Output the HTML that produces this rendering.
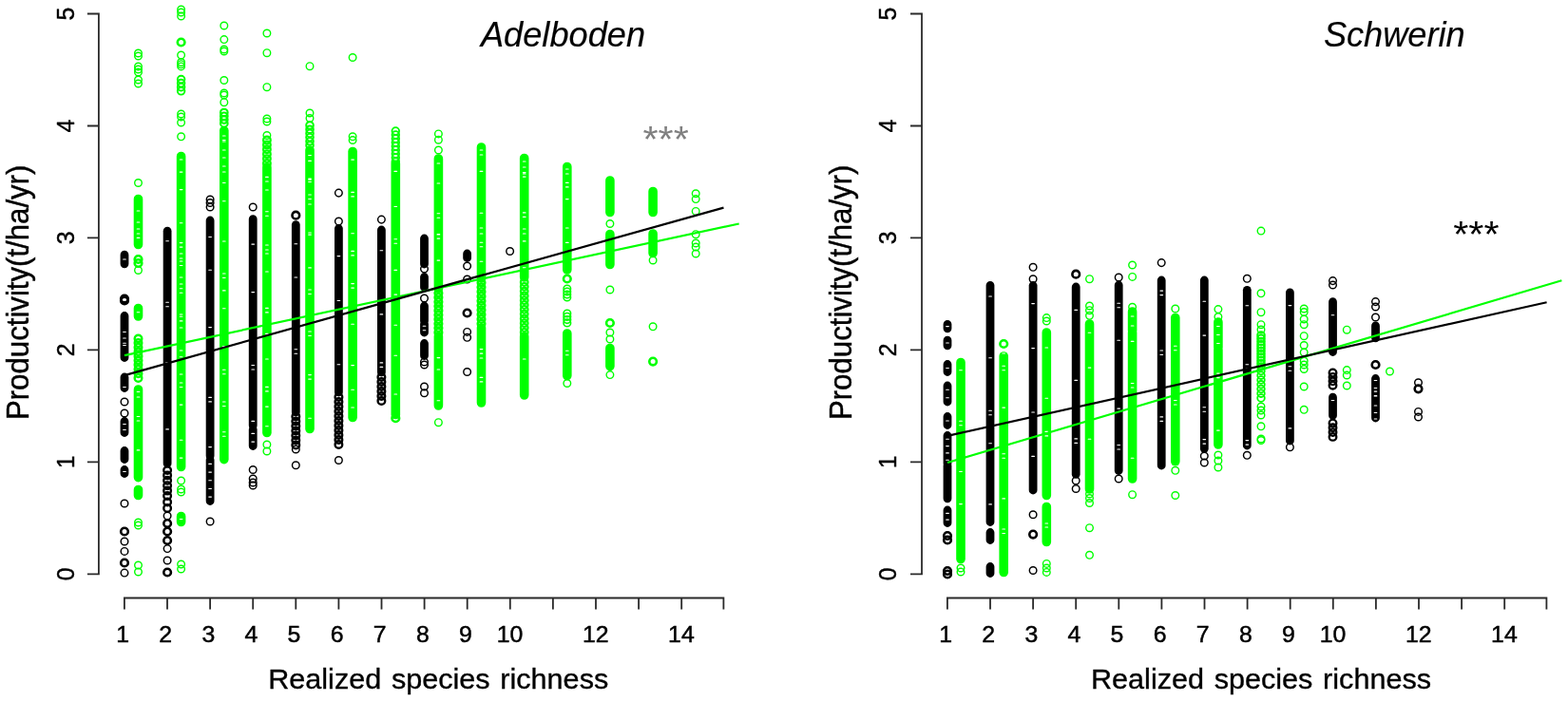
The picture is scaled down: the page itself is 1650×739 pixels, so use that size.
<!DOCTYPE html>
<html lang="en">
<head>
<meta charset="utf-8">
<title>Productivity vs realized species richness</title>
<style>
html,body{margin:0;padding:0;background:#fff;}
body{width:1650px;height:739px;overflow:hidden;}
svg{display:block;font-family:"Liberation Sans",sans-serif;}
.ax{stroke:#2a2a2a;stroke-width:1.8;fill:none;}
text{text-anchor:middle;fill:#000;stroke:#000;stroke-width:0.5;}
.tk{font-size:24.8px;}
.lb{font-size:30.6px;word-spacing:2.2px;stroke-width:0.35;}
.yl{font-size:31.2px;}
.ti{font-size:36.2px;font-style:italic;stroke-width:0.15;}
.st{font-size:41.3px;stroke:none;}
.rt{stroke-width:0.4;}
.k{stroke:#000;fill:none;stroke-width:1.45;}
.g{stroke:#00ff00;fill:none;stroke-width:1.4;}
.k .d{stroke-width:8.8;stroke-linecap:round;}
.g .d{stroke-width:9.6;stroke-linecap:round;}
.w{stroke:#fff;stroke-width:1.1;stroke-linecap:round;}
.ln{stroke-width:2.2;fill:none;stroke-linecap:butt;}
</style>
</head>
<body>
<svg width="1650" height="739" viewBox="0 0 1650 739">
<rect width="1650" height="739" fill="#fff"/>
<path class="ax" d="M103.9 13.6V605.2M103.9 604.3H91.9M103.9 486.3H91.9M103.9 368.4H91.9M103.9 250.4H91.9M103.9 132.5H91.9M103.9 14.5H91.9M130 629.5H762.3M130.9 629.5V641.5M176 629.5V641.5M221.1 629.5V641.5M266.2 629.5V641.5M311.3 629.5V641.5M356.4 629.5V641.5M401.5 629.5V641.5M446.6 629.5V641.5M491.7 629.5V641.5M536.8 629.5V641.5M581.9 629.5V641.5M627 629.5V641.5M672.1 629.5V641.5M717.2 629.5V641.5M761.4 629.5V641.5"/>
<text class="tk rt" transform="translate(77.8,604.3) scale(1.06,1) rotate(-90)">0</text>
<text class="tk rt" transform="translate(77.8,486.3) scale(1.06,1) rotate(-90)">1</text>
<text class="tk rt" transform="translate(77.8,368.4) scale(1.06,1) rotate(-90)">2</text>
<text class="tk rt" transform="translate(77.8,250.4) scale(1.06,1) rotate(-90)">3</text>
<text class="tk rt" transform="translate(77.8,132.5) scale(1.06,1) rotate(-90)">4</text>
<text class="tk rt" transform="translate(77.8,14.5) scale(1.06,1) rotate(-90)">5</text>
<text class="tk" x="129.1" y="676.4">1</text>
<text class="tk" x="174.2" y="676.4">2</text>
<text class="tk" x="219.3" y="676.4">3</text>
<text class="tk" x="264.4" y="676.4">4</text>
<text class="tk" x="309.5" y="676.4">5</text>
<text class="tk" x="354.6" y="676.4">6</text>
<text class="tk" x="399.7" y="676.4">7</text>
<text class="tk" x="444.8" y="676.4">8</text>
<text class="tk" x="489.9" y="676.4">9</text>
<text class="tk" x="536.5" y="676.4">10</text>
<text class="tk" x="626.7" y="676.4">12</text>
<text class="tk" x="716.9" y="676.4">14</text>
<text class="lb" transform="translate(461.2,725.3) scale(1,0.96)">Realized species richness</text>
<text class="yl rt" transform="translate(29.8,307.8) scale(1.06,1) rotate(-90)">Productivity(t/ha/yr)</text>
<text class="ti" x="592.5" y="48.7">Adelboden</text>
<text class="st" style="fill:#808080" transform="translate(700.6,159.6) scale(1,0.92)">***</text>
<g class="k"><path class="d" d="M131 268.2V277.8M131 332.5V376.5M131 397V408.5M131 443.5V455.5M131 474.5V483.5M131 494.5V498.5"/><path class="w" d="M129.7 273h2.6M129.7 361.2h2.6M129.7 349.5h2.6M129.7 356h2.6M129.7 363.5h2.6M129.7 407.5h2.6M129.7 446.5h2.6M129.7 452.5h2.6M129.7 496.5h2.6"/><circle cx="131" cy="314.5" r="3.8" stroke-width="2.6"/><circle cx="131" cy="316.5" r="3.8" stroke-width="2.6"/><circle cx="131" cy="423" r="3.8"/><circle cx="131" cy="435" r="3.8"/><circle cx="131" cy="530" r="3.8"/><circle cx="131" cy="559.5" r="3.8" stroke-width="2.6"/><circle cx="131" cy="570" r="3.8"/><circle cx="131" cy="580.4" r="3.8"/><circle cx="131" cy="603.1" r="3.8"/><circle cx="131" cy="592.5" r="3.8" stroke-width="2.6"/></g>
<g class="k"><path class="d" d="M176.1 243.2V488"/><path class="w" d="M174.8 253.7h2.6M174.8 318.3h2.6M174.8 322.8h2.6M174.8 381.7h2.6M174.8 451.9h2.6"/><circle cx="176.1" cy="495" r="3.8" stroke-width="2.4"/><circle cx="176.1" cy="500.4" r="3.8" stroke-width="2.4"/><circle cx="176.1" cy="505.8" r="3.8" stroke-width="2.4"/><circle cx="176.1" cy="511.2" r="3.8" stroke-width="2.4"/><circle cx="176.1" cy="516.6" r="3.8" stroke-width="2.4"/><circle cx="176.1" cy="522" r="3.8" stroke-width="2.4"/><circle cx="176.1" cy="528.5" r="3.8" stroke-width="2.4"/><circle cx="176.1" cy="535" r="3.8" stroke-width="2.4"/><circle cx="176.1" cy="543" r="3.8"/><circle cx="176.1" cy="551" r="3.8" stroke-width="2.6"/><circle cx="176.1" cy="559.5" r="3.8" stroke-width="2.6"/><circle cx="176.1" cy="569" r="3.8" stroke-width="2.6"/><circle cx="176.1" cy="602.5" r="3.8" stroke-width="2.6"/><circle cx="176.1" cy="577.6" r="3.8"/><circle cx="176.1" cy="590" r="3.8"/></g>
<g class="k"><path class="d" d="M221.1 232V480M221.1 484V527.5"/><path class="w" d="M219.8 249.5h2.6M219.8 284.2h2.6M219.8 344.6h2.6M219.8 418.4h2.6M219.8 422.9h2.6M219.8 470.6h2.6M219.8 488.4h2.6M219.8 497.1h2.6M219.8 505.8h2.6M219.8 514.5h2.6M219.8 523.1h2.6"/><circle cx="221.1" cy="210" r="3.8"/><circle cx="221.1" cy="213.5" r="3.8"/><circle cx="221.1" cy="218" r="3.8"/><circle cx="221.1" cy="549" r="3.8"/></g>
<g class="k"><path class="d" d="M266.2 230.6V448M266.2 452V469.5"/><path class="w" d="M264.9 257.1h2.6M264.9 307.6h2.6M264.9 384.5h2.6M264.9 389h2.6M264.9 443.4h2.6M264.9 456.4h2.6M264.9 465.1h2.6"/><circle cx="266.2" cy="218" r="3.8"/><circle cx="266.2" cy="494.5" r="3.8"/><circle cx="266.2" cy="504" r="3.8"/><circle cx="266.2" cy="508" r="3.8"/><circle cx="266.2" cy="511" r="3.8"/></g>
<g class="k"><path class="d" d="M311.3 236.6V434"/><path class="w" d="M310 256.8h2.6M310 292h2.6M310 367.8h2.6M310 372.3h2.6"/><circle cx="311.3" cy="226.7" r="3.8" stroke-width="2.6"/><circle cx="311.3" cy="438.5" r="3.8" stroke-width="2.4"/><circle cx="311.3" cy="443.5" r="3.8" stroke-width="2.4"/><circle cx="311.3" cy="448.5" r="3.8" stroke-width="2.4"/><circle cx="311.3" cy="453.5" r="3.8" stroke-width="2.4"/><circle cx="311.3" cy="458.5" r="3.8" stroke-width="2.4"/><circle cx="311.3" cy="463.5" r="3.8" stroke-width="2.4"/><circle cx="311.3" cy="468.5" r="3.8" stroke-width="2.4"/><circle cx="311.3" cy="473" r="3.8"/><circle cx="311.3" cy="489.7" r="3.8"/></g>
<g class="k"><path class="d" d="M356.4 240.5V413"/><path class="w" d="M355.1 269.6h2.6M355.1 316.5h2.6M355.1 383.8h2.6"/><circle cx="356.4" cy="203.1" r="3.8"/><circle cx="356.4" cy="233" r="3.8"/><circle cx="356.4" cy="418" r="3.8" stroke-width="2.4"/><circle cx="356.4" cy="423" r="3.8" stroke-width="2.4"/><circle cx="356.4" cy="428" r="3.8" stroke-width="2.4"/><circle cx="356.4" cy="433" r="3.8" stroke-width="2.4"/><circle cx="356.4" cy="438" r="3.8" stroke-width="2.4"/><circle cx="356.4" cy="443" r="3.8" stroke-width="2.4"/><circle cx="356.4" cy="448" r="3.8" stroke-width="2.4"/><circle cx="356.4" cy="453" r="3.8" stroke-width="2.4"/><circle cx="356.4" cy="458" r="3.8" stroke-width="2.4"/><circle cx="356.4" cy="463" r="3.8" stroke-width="2.4"/><circle cx="356.4" cy="468" r="3.8" stroke-width="2.4"/><circle cx="356.4" cy="484.5" r="3.8"/></g>
<g class="k"><path class="d" d="M401.4 242V392"/><path class="w" d="M400.1 263.7h2.6M400.1 330.9h2.6M400.1 381.9h2.6M400.1 386.4h2.6"/><circle cx="401.4" cy="231.1" r="3.8"/><circle cx="401.4" cy="397" r="3.8" stroke-width="2.4"/><circle cx="401.4" cy="402" r="3.8" stroke-width="2.4"/><circle cx="401.4" cy="407" r="3.8" stroke-width="2.4"/><circle cx="401.4" cy="412" r="3.8" stroke-width="2.4"/><circle cx="401.4" cy="417" r="3.8" stroke-width="2.4"/><circle cx="401.4" cy="422" r="3.8" stroke-width="2.4"/></g>
<g class="k"><path class="d" d="M446.5 251V278M446.5 291.5V302.5M446.5 322V338M446.5 341V350M446.5 361.5V374.5"/><path class="w" d="M445.2 343.2h2.6M445.2 347.8h2.6"/><circle cx="446.5" cy="283" r="3.8"/><circle cx="446.5" cy="314" r="3.8"/><circle cx="446.5" cy="381" r="3.8"/><circle cx="446.5" cy="384" r="3.8"/><circle cx="446.5" cy="407" r="3.8"/><circle cx="446.5" cy="413.7" r="3.8"/></g>
<g class="k"><path class="d" d="M491.6 267V271.5"/><circle cx="491.6" cy="280" r="3.8"/><circle cx="491.6" cy="294" r="3.8"/><circle cx="491.6" cy="329.5" r="3.8" stroke-width="2.6"/><circle cx="491.6" cy="349.4" r="3.8"/><circle cx="491.6" cy="355.3" r="3.8"/><circle cx="491.6" cy="391.5" r="3.8"/></g>
<g class="k"><circle cx="536.6" cy="264.5" r="3.8"/></g>
<g class="g"><path class="d" d="M145.5 209.5V257.5M145.5 324.5V333M145.5 410V502.6M145.5 515.5V521.5"/><path class="w" d="M144.2 234h2.6M144.2 250.4h2.6M144.2 222h2.6M144.2 241h2.6M144.2 246h2.6M144.2 328.8h2.6M144.2 438.5h2.6M144.2 443h2.6M144.2 473.9h2.6M144.2 412.5h2.6M144.2 418h2.6"/><circle cx="145.5" cy="56" r="3.8"/><circle cx="145.5" cy="59" r="3.8"/><circle cx="145.5" cy="70" r="3.8"/><circle cx="145.5" cy="73" r="3.8"/><circle cx="145.5" cy="76" r="3.8"/><circle cx="145.5" cy="84" r="3.8"/><circle cx="145.5" cy="88" r="3.8"/><circle cx="145.5" cy="192.5" r="3.8"/><circle cx="145.5" cy="273" r="3.8" stroke-width="2.6"/><circle cx="145.5" cy="277" r="3.8" stroke-width="2.6"/><circle cx="145.5" cy="284.5" r="3.8"/><circle cx="145.5" cy="356.5" r="3.8" stroke-width="2.4"/><circle cx="145.5" cy="361.1" r="3.8" stroke-width="2.4"/><circle cx="145.5" cy="365.7" r="3.8" stroke-width="2.4"/><circle cx="145.5" cy="370.3" r="3.8" stroke-width="2.4"/><circle cx="145.5" cy="374.9" r="3.8" stroke-width="2.4"/><circle cx="145.5" cy="379.5" r="3.8" stroke-width="2.4"/><circle cx="145.5" cy="384.1" r="3.8" stroke-width="2.4"/><circle cx="145.5" cy="388.7" r="3.8" stroke-width="2.4"/><circle cx="145.5" cy="393.3" r="3.8" stroke-width="2.4"/><circle cx="145.5" cy="397.9" r="3.8" stroke-width="2.4"/><circle cx="145.5" cy="550" r="3.8"/><circle cx="145.5" cy="553" r="3.8"/><circle cx="145.5" cy="595" r="3.8"/><circle cx="145.5" cy="602" r="3.8"/></g>
<g class="g"><path class="d" d="M190.6 164.5V491.5M190.6 543.5V549.5"/><path class="w" d="M189.3 181.1h2.6M189.3 199.6h2.6M189.3 234.7h2.6M189.3 255.6h2.6M189.3 260.1h2.6M189.3 275h2.6M189.3 279.5h2.6M189.3 303.7h2.6M189.3 308.2h2.6M189.3 333.2h2.6M189.3 337.7h2.6M189.3 375.8h2.6M189.3 403h2.6M189.3 407.5h2.6M189.3 426.1h2.6M189.3 463.2h2.6M189.3 482.1h2.6M189.3 168h2.6M189.3 267h2.6M189.3 272h2.6M189.3 292h2.6M189.3 299h2.6M189.3 331h2.6M189.3 338h2.6M189.3 345h2.6M189.3 369h2.6M189.3 394h2.6M189.3 546.5h2.6"/><circle cx="190.6" cy="10" r="3.8"/><circle cx="190.6" cy="13" r="3.8"/><circle cx="190.6" cy="17" r="3.8"/><circle cx="190.6" cy="58" r="3.8"/><circle cx="190.6" cy="44.5" r="3.8" stroke-width="2.6"/><circle cx="190.6" cy="65.5" r="3.8"/><circle cx="190.6" cy="67.7" r="3.8"/><circle cx="190.6" cy="69.9" r="3.8"/><circle cx="190.6" cy="83.5" r="3.8" stroke-width="1.9"/><circle cx="190.6" cy="87.6" r="3.8" stroke-width="1.9"/><circle cx="190.6" cy="91.7" r="3.8" stroke-width="1.9"/><circle cx="190.6" cy="95.8" r="3.8" stroke-width="1.9"/><circle cx="190.6" cy="120" r="3.8"/><circle cx="190.6" cy="123" r="3.8"/><circle cx="190.6" cy="129" r="3.8"/><circle cx="190.6" cy="143.8" r="3.8"/><circle cx="190.6" cy="506" r="3.8"/><circle cx="190.6" cy="515" r="3.8"/><circle cx="190.6" cy="518" r="3.8"/><circle cx="190.6" cy="594" r="3.8"/><circle cx="190.6" cy="599" r="3.8"/></g>
<g class="g"><path class="d" d="M235.8 137.5V483.6"/><path class="w" d="M234.5 147.5h2.6M234.5 192.5h2.6M234.5 211.7h2.6M234.5 254h2.6M234.5 288h2.6M234.5 292.5h2.6M234.5 305.9h2.6M234.5 324.8h2.6M234.5 364.6h2.6M234.5 389.2h2.6M234.5 393.7h2.6M234.5 423h2.6M234.5 427.5h2.6M234.5 454.7h2.6M234.5 459.2h2.6M234.5 143h2.6M234.5 149h2.6M234.5 158h2.6M234.5 166h2.6M234.5 175h2.6M234.5 181h2.6"/><circle cx="235.8" cy="27" r="3.8"/><circle cx="235.8" cy="41.6" r="3.8"/><circle cx="235.8" cy="52" r="3.8"/><circle cx="235.8" cy="54" r="3.8"/><circle cx="235.8" cy="84.5" r="3.8"/><circle cx="235.8" cy="98" r="3.8"/><circle cx="235.8" cy="100" r="3.8"/><circle cx="235.8" cy="107.7" r="3.8"/><circle cx="235.8" cy="118.5" r="3.8" stroke-width="2.1"/><circle cx="235.8" cy="122.3" r="3.8" stroke-width="2.1"/><circle cx="235.8" cy="126.1" r="3.8" stroke-width="2.1"/><circle cx="235.8" cy="129.9" r="3.8" stroke-width="2.1"/></g>
<g class="g"><path class="d" d="M280.9 176V455.5"/><path class="w" d="M279.6 186.4h2.6M279.6 222.8h2.6M279.6 227.3h2.6M279.6 267h2.6M279.6 286h2.6M279.6 324.4h2.6M279.6 328.9h2.6M279.6 351.4h2.6M279.6 378h2.6M279.6 407.4h2.6M279.6 411.9h2.6M279.6 428.1h2.6M279.6 448.7h2.6M279.6 191h2.6M279.6 200h2.6M279.6 258h2.6M279.6 263h2.6"/><circle cx="280.9" cy="35" r="3.8"/><circle cx="280.9" cy="55.7" r="3.8"/><circle cx="280.9" cy="91.7" r="3.8"/><circle cx="280.9" cy="125" r="3.8"/><circle cx="280.9" cy="128" r="3.8"/><circle cx="280.9" cy="142.5" r="3.8"/><circle cx="280.9" cy="147.5" r="3.8" stroke-width="2.3"/><circle cx="280.9" cy="152.4" r="3.8" stroke-width="2.3"/><circle cx="280.9" cy="157.3" r="3.8" stroke-width="2.3"/><circle cx="280.9" cy="162.2" r="3.8" stroke-width="2.3"/><circle cx="280.9" cy="167.1" r="3.8" stroke-width="2.3"/><circle cx="280.9" cy="172" r="3.8" stroke-width="2.3"/><circle cx="280.9" cy="468" r="3.8"/><circle cx="280.9" cy="475" r="3.8"/></g>
<g class="g"><path class="d" d="M326 158V451.5"/><path class="w" d="M324.7 169.4h2.6M324.7 189.1h2.6M324.7 209.5h2.6M324.7 247.1h2.6M324.7 281.9h2.6M324.7 305h2.6M324.7 309.5h2.6M324.7 349h2.6M324.7 353.5h2.6M324.7 394.6h2.6M324.7 399.1h2.6M324.7 440.3h2.6M324.7 163.5h2.6M324.7 188h2.6M324.7 191.5h2.6M324.7 205h2.6M324.7 215h2.6M324.7 245h2.6"/><circle cx="326" cy="69.7" r="3.8"/><circle cx="326" cy="119" r="3.8"/><circle cx="326" cy="124.5" r="3.8"/><circle cx="326" cy="132" r="3.8" stroke-width="2"/><circle cx="326" cy="136.2" r="3.8" stroke-width="2"/><circle cx="326" cy="140.4" r="3.8" stroke-width="2"/><circle cx="326" cy="144.6" r="3.8" stroke-width="2"/><circle cx="326" cy="148.8" r="3.8" stroke-width="2"/><circle cx="326" cy="153" r="3.8" stroke-width="2"/></g>
<g class="g"><path class="d" d="M371.1 159.5V439.5"/><path class="w" d="M369.8 168.1h2.6M369.8 202.4h2.6M369.8 206.9h2.6M369.8 245.7h2.6M369.8 264.4h2.6M369.8 268.9h2.6M369.8 298.6h2.6M369.8 303.1h2.6M369.8 341.2h2.6M369.8 384.6h2.6M369.8 410.2h2.6M369.8 429h2.6"/><circle cx="371.1" cy="60.5" r="3.8"/><circle cx="371.1" cy="143.8" r="3.8"/><circle cx="371.1" cy="147.5" r="3.8"/></g>
<g class="g"><path class="d" d="M416.3 172V436.5"/><path class="w" d="M415 180.4h2.6M415 217.5h2.6M415 251.7h2.6M415 256.2h2.6M415 284.4h2.6M415 310.1h2.6M415 342.3h2.6M415 374.2h2.6M415 415h2.6M415 146.5h2.6M415 158h2.6M415 163h2.6M415 168h2.6"/><circle cx="416.3" cy="138" r="3.8" stroke-width="1.8"/><circle cx="416.3" cy="142" r="3.8" stroke-width="1.8"/><circle cx="416.3" cy="146" r="3.8" stroke-width="1.8"/><circle cx="416.3" cy="150" r="3.8" stroke-width="1.8"/><circle cx="416.3" cy="154" r="3.8" stroke-width="1.8"/><circle cx="416.3" cy="158" r="3.8" stroke-width="1.8"/><circle cx="416.3" cy="162" r="3.8" stroke-width="1.8"/><circle cx="416.3" cy="166" r="3.8" stroke-width="1.8"/><circle cx="416.3" cy="170" r="3.8" stroke-width="1.8"/><circle cx="416.3" cy="440.2" r="3.8" stroke-width="2.6"/></g>
<g class="g"><path class="d" d="M461.4 167V304M461.4 354V427"/><path class="w" d="M460.1 193h2.6M460.1 224.8h2.6M460.1 229.3h2.6M460.1 246.6h2.6M460.1 251.1h2.6M460.1 274.1h2.6M460.1 172h2.6M460.1 247h2.6M460.1 389h2.6M460.1 376.6h2.6M460.1 421.8h2.6"/><circle cx="461.4" cy="140.9" r="3.8"/><circle cx="461.4" cy="147.2" r="3.8"/><circle cx="461.4" cy="158" r="3.8"/><circle cx="461.4" cy="308.5" r="3.8" stroke-width="2.5"/><circle cx="461.4" cy="313.1" r="3.8" stroke-width="2.5"/><circle cx="461.4" cy="317.7" r="3.8" stroke-width="2.5"/><circle cx="461.4" cy="322.3" r="3.8" stroke-width="2.5"/><circle cx="461.4" cy="326.9" r="3.8" stroke-width="2.5"/><circle cx="461.4" cy="331.5" r="3.8" stroke-width="2.5"/><circle cx="461.4" cy="336.1" r="3.8" stroke-width="2.5"/><circle cx="461.4" cy="340.7" r="3.8" stroke-width="2.5"/><circle cx="461.4" cy="345.3" r="3.8" stroke-width="2.5"/><circle cx="461.4" cy="349.9" r="3.8" stroke-width="2.5"/><circle cx="461.4" cy="444.7" r="3.8"/></g>
<g class="g"><path class="d" d="M506.5 155V293M506.5 345V424"/><path class="w" d="M505.2 180.4h2.6M505.2 224.3h2.6M505.2 255.2h2.6M505.2 259.7h2.6M505.2 275.2h2.6M505.2 158h2.6M505.2 163h2.6M505.2 240h2.6M505.2 246h2.6M505.2 377h2.6M505.2 367.6h2.6M505.2 372.1h2.6M505.2 397.4h2.6M505.2 401.9h2.6"/><circle cx="506.5" cy="297.5" r="3.8" stroke-width="2.5"/><circle cx="506.5" cy="302.3" r="3.8" stroke-width="2.5"/><circle cx="506.5" cy="307.1" r="3.8" stroke-width="2.5"/><circle cx="506.5" cy="311.9" r="3.8" stroke-width="2.5"/><circle cx="506.5" cy="316.7" r="3.8" stroke-width="2.5"/><circle cx="506.5" cy="321.5" r="3.8" stroke-width="2.5"/><circle cx="506.5" cy="326.3" r="3.8" stroke-width="2.5"/><circle cx="506.5" cy="331.1" r="3.8" stroke-width="2.5"/><circle cx="506.5" cy="335.9" r="3.8" stroke-width="2.5"/><circle cx="506.5" cy="340.7" r="3.8" stroke-width="2.5"/></g>
<g class="g"><path class="d" d="M551.7 166.5V292M551.7 354V416"/><path class="w" d="M550.4 181.6h2.6M550.4 186.1h2.6M550.4 223.9h2.6M550.4 228.4h2.6M550.4 253.9h2.6M550.4 281.7h2.6M550.4 170h2.6M550.4 176h2.6M550.4 183h2.6M550.4 241h2.6M550.4 246h2.6M550.4 378h2.6"/><circle cx="551.7" cy="297" r="3.8" stroke-width="2.2"/><circle cx="551.7" cy="301.8" r="3.8" stroke-width="2.2"/><circle cx="551.7" cy="306.6" r="3.8" stroke-width="2.2"/><circle cx="551.7" cy="311.4" r="3.8" stroke-width="2.2"/><circle cx="551.7" cy="316.2" r="3.8" stroke-width="2.2"/><circle cx="551.7" cy="321" r="3.8" stroke-width="2.2"/><circle cx="551.7" cy="325.8" r="3.8" stroke-width="2.2"/><circle cx="551.7" cy="330.6" r="3.8" stroke-width="2.2"/><circle cx="551.7" cy="335.4" r="3.8" stroke-width="2.2"/><circle cx="551.7" cy="340.2" r="3.8" stroke-width="2.2"/><circle cx="551.7" cy="345" r="3.8" stroke-width="2.2"/><circle cx="551.7" cy="349.8" r="3.8" stroke-width="2.2"/></g>
<g class="g"><path class="d" d="M596.8 175.5V284M596.8 351V395.5"/><path class="w" d="M595.5 192.4h2.6M595.5 196.9h2.6M595.5 209.6h2.6M595.5 255.4h2.6M595.5 178h2.6M595.5 183h2.6M595.5 240h2.6M595.5 369.3h2.6M595.5 373.8h2.6"/><circle cx="596.8" cy="293.5" r="3.8" stroke-width="2.6"/><circle cx="596.8" cy="304" r="3.8" stroke-width="1.5"/><circle cx="596.8" cy="307" r="3.8" stroke-width="1.5"/><circle cx="596.8" cy="310" r="3.8" stroke-width="1.5"/><circle cx="596.8" cy="313" r="3.8" stroke-width="1.5"/><circle cx="596.8" cy="330" r="3.8" stroke-width="1.6"/><circle cx="596.8" cy="333.3" r="3.8" stroke-width="1.6"/><circle cx="596.8" cy="336.6" r="3.8" stroke-width="1.6"/><circle cx="596.8" cy="339.9" r="3.8" stroke-width="1.6"/><circle cx="596.8" cy="403.5" r="3.8"/></g>
<g class="g"><path class="d" d="M641.9 190V223.5M641.9 246.5V278.5M641.9 366.5V385.5"/><circle cx="641.9" cy="235.5" r="3.8"/><circle cx="641.9" cy="305" r="3.8"/><circle cx="641.9" cy="350" r="3.8"/><circle cx="641.9" cy="357" r="3.8"/><circle cx="641.9" cy="340" r="3.8" stroke-width="2.6"/><circle cx="641.9" cy="394.6" r="3.8"/></g>
<g class="g"><path class="d" d="M687.1 201.5V223.5M687.1 246V266.5"/><circle cx="687.1" cy="274" r="3.8"/><circle cx="687.1" cy="343.8" r="3.8"/><circle cx="687.1" cy="380.6" r="3.8" stroke-width="2.6"/></g>
<g class="g"><circle cx="732.2" cy="203.8" r="3.8"/><circle cx="732.2" cy="209.6" r="3.8"/><circle cx="732.2" cy="222.4" r="3.8"/><circle cx="732.2" cy="246.7" r="3.8"/><circle cx="732.2" cy="256" r="3.8"/><circle cx="732.2" cy="260" r="3.8"/><circle cx="732.2" cy="267" r="3.8"/></g>
<path class="ln" stroke="#00ff00" d="M131 374.1L777.7 235.5"/>
<path class="ln" stroke="#000" d="M131 395.1L761.5 218.6"/>
<path class="ax" d="M970 13.6V605.2M970 604.3H958M970 486.3H958M970 368.4H958M970 250.4H958M970 132.5H958M970 14.5H958M996 629.5H1628.3M996.9 629.5V641.5M1042 629.5V641.5M1087.1 629.5V641.5M1132.2 629.5V641.5M1177.3 629.5V641.5M1222.4 629.5V641.5M1267.5 629.5V641.5M1312.6 629.5V641.5M1357.7 629.5V641.5M1402.8 629.5V641.5M1447.9 629.5V641.5M1493 629.5V641.5M1538.1 629.5V641.5M1583.2 629.5V641.5M1627.4 629.5V641.5"/>
<text class="tk rt" transform="translate(943.3,604.3) scale(1.06,1) rotate(-90)">0</text>
<text class="tk rt" transform="translate(943.3,486.3) scale(1.06,1) rotate(-90)">1</text>
<text class="tk rt" transform="translate(943.3,368.4) scale(1.06,1) rotate(-90)">2</text>
<text class="tk rt" transform="translate(943.3,250.4) scale(1.06,1) rotate(-90)">3</text>
<text class="tk rt" transform="translate(943.3,132.5) scale(1.06,1) rotate(-90)">4</text>
<text class="tk rt" transform="translate(943.3,14.5) scale(1.06,1) rotate(-90)">5</text>
<text class="tk" x="995.1" y="676.4">1</text>
<text class="tk" x="1040.2" y="676.4">2</text>
<text class="tk" x="1085.3" y="676.4">3</text>
<text class="tk" x="1130.4" y="676.4">4</text>
<text class="tk" x="1175.5" y="676.4">5</text>
<text class="tk" x="1220.6" y="676.4">6</text>
<text class="tk" x="1265.7" y="676.4">7</text>
<text class="tk" x="1310.8" y="676.4">8</text>
<text class="tk" x="1355.9" y="676.4">9</text>
<text class="tk" x="1402.5" y="676.4">10</text>
<text class="tk" x="1492.7" y="676.4">12</text>
<text class="tk" x="1582.9" y="676.4">14</text>
<text class="lb" transform="translate(1327,725.3) scale(1,0.96)">Realized species richness</text>
<text class="yl rt" transform="translate(895.8,307.8) scale(1.06,1) rotate(-90)">Productivity(t/ha/yr)</text>
<text class="ti" x="1467.3" y="48.7">Schwerin</text>
<text class="st" style="fill:#000" transform="translate(1553.4,259.6) scale(1,0.92)">***</text>
<g class="k"><path class="d" d="M997 341.3V345.8M997 358.2V363.8M997 383.5V391.5M997 406V423M997 438.5V447.5M997 458.5V488M997 490V524.8M997 537V550.5"/><path class="w" d="M995.7 343.6h2.6M995.7 361h2.6M995.7 387.5h2.6M995.7 410.2h2.6M995.7 418.8h2.6M995.7 443h2.6M995.7 462.2h2.6M995.7 469.6h2.6M995.7 476.9h2.6M995.7 484.3h2.6M995.7 540.4h2.6M995.7 547.1h2.6"/><circle cx="997" cy="564" r="3.8" stroke-width="2.6"/><circle cx="997" cy="568.5" r="3.8" stroke-width="2.6"/><circle cx="997" cy="601" r="3.8" stroke-width="2.6"/><circle cx="997" cy="604.5" r="3.8" stroke-width="2.6"/></g>
<g class="k"><path class="d" d="M1042 300.3V549.5M1042 560.5V568.5M1042 596.5V603.5"/><path class="w" d="M1040.8 312h2.6M1040.8 376.8h2.6M1040.8 432.3h2.6M1040.8 436.8h2.6M1040.8 466.8h2.6M1040.8 530.9h2.6"/></g>
<g class="k"><path class="d" d="M1087.1 300.5V516"/><path class="w" d="M1085.8 319.6h2.6M1085.8 366.6h2.6M1085.8 434h2.6M1085.8 480.4h2.6"/><circle cx="1087.1" cy="281.3" r="3.8"/><circle cx="1087.1" cy="293.7" r="3.8"/><circle cx="1087.1" cy="541.7" r="3.8"/><circle cx="1087.1" cy="600.5" r="3.8"/><circle cx="1087.1" cy="562.6" r="3.8" stroke-width="2.6"/></g>
<g class="k"><path class="d" d="M1132.2 302V499.3"/><path class="w" d="M1130.9 326.4h2.6M1130.9 400.4h2.6M1130.9 461.9h2.6M1130.9 466.4h2.6"/><circle cx="1132.2" cy="288.7" r="3.8" stroke-width="2.6"/><circle cx="1132.2" cy="506" r="3.8"/><circle cx="1132.2" cy="514.5" r="3.8"/></g>
<g class="k"><path class="d" d="M1177.2 300V495.5"/><path class="w" d="M1175.9 319.3h2.6M1175.9 323.8h2.6M1175.9 358.3h2.6M1175.9 430.1h2.6M1175.9 468.5h2.6M1175.9 473h2.6"/><circle cx="1177.2" cy="292" r="3.8"/><circle cx="1177.2" cy="504" r="3.8"/></g>
<g class="k"><path class="d" d="M1222.2 295V490"/><path class="w" d="M1221 306.1h2.6M1221 310.6h2.6M1221 369h2.6M1221 373.5h2.6M1221 438.9h2.6M1221 443.4h2.6"/><circle cx="1222.2" cy="276.6" r="3.8"/></g>
<g class="k"><path class="d" d="M1267.3 295V472.3"/><path class="w" d="M1266 317.2h2.6M1266 353.1h2.6M1266 428.7h2.6M1266 433.2h2.6M1266 462.6h2.6M1266 467.1h2.6"/><circle cx="1267.3" cy="480" r="3.8"/><circle cx="1267.3" cy="487" r="3.8"/></g>
<g class="k"><path class="d" d="M1312.3 305.3V469"/><path class="w" d="M1311 321.8h2.6M1311 383.8h2.6M1311 388.3h2.6M1311 463.6h2.6M1311 468.1h2.6"/><circle cx="1312.3" cy="293.3" r="3.8"/><circle cx="1312.3" cy="479.3" r="3.8"/></g>
<g class="k"><path class="d" d="M1357.4 307.8V464"/><path class="w" d="M1356.1 321.6h2.6M1356.1 385.8h2.6M1356.1 390.3h2.6M1356.1 450.9h2.6"/><circle cx="1357.4" cy="470.7" r="3.8"/></g>
<g class="k"><path class="d" d="M1402.5 317.7V370.5M1402.5 418.2V437.5"/><path class="w" d="M1401.2 331.7h2.6M1401.2 421.5h2.6"/><circle cx="1402.5" cy="295.6" r="3.8"/><circle cx="1402.5" cy="300" r="3.8"/><circle cx="1402.5" cy="392.5" r="3.8" stroke-width="2.3"/><circle cx="1402.5" cy="396.9" r="3.8" stroke-width="2.3"/><circle cx="1402.5" cy="401.3" r="3.8" stroke-width="2.3"/><circle cx="1402.5" cy="405.7" r="3.8" stroke-width="2.3"/><circle cx="1402.5" cy="445.5" r="3.8" stroke-width="2.3"/><circle cx="1402.5" cy="450.3" r="3.8" stroke-width="2.3"/><circle cx="1402.5" cy="455.1" r="3.8" stroke-width="2.3"/><circle cx="1402.5" cy="459.9" r="3.8" stroke-width="2.3"/></g>
<g class="k"><path class="d" d="M1447.5 342.9V355.8M1447.5 398.5V440"/><path class="w" d="M1446.2 412.1h2.6M1446.2 416.6h2.6M1446.2 400.5h2.6M1446.2 408.5h2.6M1446.2 417h2.6M1446.2 427h2.6M1446.2 434.5h2.6M1446.2 441h2.6"/><circle cx="1447.5" cy="317.6" r="3.8"/><circle cx="1447.5" cy="323" r="3.8"/><circle cx="1447.5" cy="334" r="3.8"/><circle cx="1447.5" cy="384" r="3.8" stroke-width="2.6"/></g>
<g class="k"><circle cx="1492.5" cy="402.8" r="3.8"/><circle cx="1492.5" cy="433.4" r="3.8"/><circle cx="1492.5" cy="439" r="3.8"/><circle cx="1492.5" cy="409.3" r="3.8" stroke-width="2.6"/></g>
<g class="g"><path class="d" d="M1011 381.5V588.5"/><path class="w" d="M1009.7 389.8h2.6M1009.7 443.2h2.6M1009.7 447.7h2.6M1009.7 496.5h2.6M1009.7 530.6h2.6"/><circle cx="1011" cy="598" r="3.8"/><circle cx="1011" cy="602" r="3.8"/></g>
<g class="g"><path class="d" d="M1056.2 375V602.5"/><path class="w" d="M1054.9 385.3h2.6M1054.9 389.8h2.6M1054.9 429.1h2.6M1054.9 477.7h2.6M1054.9 482.2h2.6M1054.9 524.9h2.6M1054.9 557h2.6M1054.9 561.5h2.6M1054.9 372h2.6"/><circle cx="1056.2" cy="362" r="3.8" stroke-width="2.6"/></g>
<g class="g"><path class="d" d="M1101.3 350V521.5M1101.3 533.5V570.5"/><path class="w" d="M1100 366h2.6M1100 419.2h2.6M1100 454.4h2.6M1100 458.9h2.6M1100 527.5h2.6M1100 551h2.6M1100 555h2.6"/><circle cx="1101.3" cy="334.6" r="3.8"/><circle cx="1101.3" cy="338" r="3.8"/><circle cx="1101.3" cy="593.4" r="3.8"/><circle cx="1101.3" cy="598" r="3.8"/><circle cx="1101.3" cy="602.4" r="3.8"/></g>
<g class="g"><path class="d" d="M1146.5 341V515"/><path class="w" d="M1145.2 350.2h2.6M1145.2 387.1h2.6M1145.2 462.2h2.6"/><circle cx="1146.5" cy="293.7" r="3.8"/><circle cx="1146.5" cy="322" r="3.8"/><circle cx="1146.5" cy="326.7" r="3.8"/><circle cx="1146.5" cy="332.3" r="3.8"/><circle cx="1146.5" cy="520" r="3.8"/><circle cx="1146.5" cy="524.5" r="3.8"/><circle cx="1146.5" cy="529.5" r="3.8"/><circle cx="1146.5" cy="555.7" r="3.8"/><circle cx="1146.5" cy="584.3" r="3.8"/></g>
<g class="g"><path class="d" d="M1191.6 328V348M1191.6 350V504"/><path class="w" d="M1190.3 333h2.6M1190.3 343h2.6M1190.3 359.4h2.6M1190.3 403.5h2.6M1190.3 408h2.6M1190.3 482.2h2.6"/><circle cx="1191.6" cy="279" r="3.8"/><circle cx="1191.6" cy="291.4" r="3.8"/><circle cx="1191.6" cy="323.3" r="3.8"/><circle cx="1191.6" cy="520.7" r="3.8"/></g>
<g class="g"><path class="d" d="M1236.8 334.5V485.8"/><path class="w" d="M1235.5 364.2h2.6M1235.5 368.7h2.6M1235.5 421.5h2.6M1235.5 426h2.6"/><circle cx="1236.8" cy="325" r="3.8"/><circle cx="1236.8" cy="495.3" r="3.8"/><circle cx="1236.8" cy="521.5" r="3.8"/></g>
<g class="g"><path class="d" d="M1281.9 339V366M1281.9 368V468"/><path class="w" d="M1280.6 343.5h2.6M1280.6 352.5h2.6M1280.6 361.5h2.6M1280.6 393.1h2.6M1280.6 397.6h2.6M1280.6 453.1h2.6"/><circle cx="1281.9" cy="325.6" r="3.8"/><circle cx="1281.9" cy="333.5" r="3.8"/><circle cx="1281.9" cy="479" r="3.8"/><circle cx="1281.9" cy="485" r="3.8"/><circle cx="1281.9" cy="492" r="3.8"/></g>
<g class="g"><circle cx="1327" cy="243.1" r="3.8"/><circle cx="1327" cy="308.8" r="3.8"/><circle cx="1327" cy="328.7" r="3.8"/><circle cx="1327" cy="341.7" r="3.8"/><circle cx="1327" cy="347" r="3.8"/><circle cx="1327" cy="353" r="3.8" stroke-width="2"/><circle cx="1327" cy="356.3" r="3.8" stroke-width="2"/><circle cx="1327" cy="359.6" r="3.8" stroke-width="2"/><circle cx="1327" cy="362.9" r="3.8" stroke-width="2"/><circle cx="1327" cy="366.2" r="3.8" stroke-width="2"/><circle cx="1327" cy="369.5" r="3.8" stroke-width="2"/><circle cx="1327" cy="372.8" r="3.8" stroke-width="2"/><circle cx="1327" cy="376.1" r="3.8" stroke-width="2"/><circle cx="1327" cy="379.4" r="3.8" stroke-width="2"/><circle cx="1327" cy="382.7" r="3.8" stroke-width="2"/><circle cx="1327" cy="386" r="3.8" stroke-width="2"/><circle cx="1327" cy="390.5" r="3.8" stroke-width="1.8"/><circle cx="1327" cy="395.2" r="3.8" stroke-width="1.8"/><circle cx="1327" cy="400" r="3.8" stroke-width="1.8"/><circle cx="1327" cy="404.8" r="3.8" stroke-width="1.8"/><circle cx="1327" cy="409.5" r="3.8" stroke-width="1.8"/><circle cx="1327" cy="414.2" r="3.8" stroke-width="1.8"/><circle cx="1327" cy="419" r="3.8" stroke-width="1.8"/><circle cx="1327" cy="428" r="3.8"/><circle cx="1327" cy="432" r="3.8"/><circle cx="1327" cy="437" r="3.8"/><circle cx="1327" cy="448.8" r="3.8"/><circle cx="1327" cy="462" r="3.8"/><circle cx="1327" cy="463.5" r="3.8"/></g>
<g class="g"><circle cx="1372.2" cy="325" r="3.8"/><circle cx="1372.2" cy="328.5" r="3.8"/><circle cx="1372.2" cy="336" r="3.8"/><circle cx="1372.2" cy="341.7" r="3.8"/><circle cx="1372.2" cy="353.7" r="3.8"/><circle cx="1372.2" cy="363.5" r="3.8"/><circle cx="1372.2" cy="371" r="3.8"/><circle cx="1372.2" cy="380" r="3.8"/><circle cx="1372.2" cy="384" r="3.8"/><circle cx="1372.2" cy="388.5" r="3.8"/><circle cx="1372.2" cy="407" r="3.8"/><circle cx="1372.2" cy="431.3" r="3.8"/></g>
<g class="g"><circle cx="1417.3" cy="347.2" r="3.8"/><circle cx="1417.3" cy="389.6" r="3.8"/><circle cx="1417.3" cy="395" r="3.8"/><circle cx="1417.3" cy="406" r="3.8"/></g>
<g class="g"><circle cx="1462.5" cy="391" r="3.8"/></g>
<path class="ln" stroke="#00ff00" d="M997 487L1643.4 295.2"/>
<path class="ln" stroke="#000" d="M997 458.9L1627.6 318.2"/>
</svg>
</body>
</html>
